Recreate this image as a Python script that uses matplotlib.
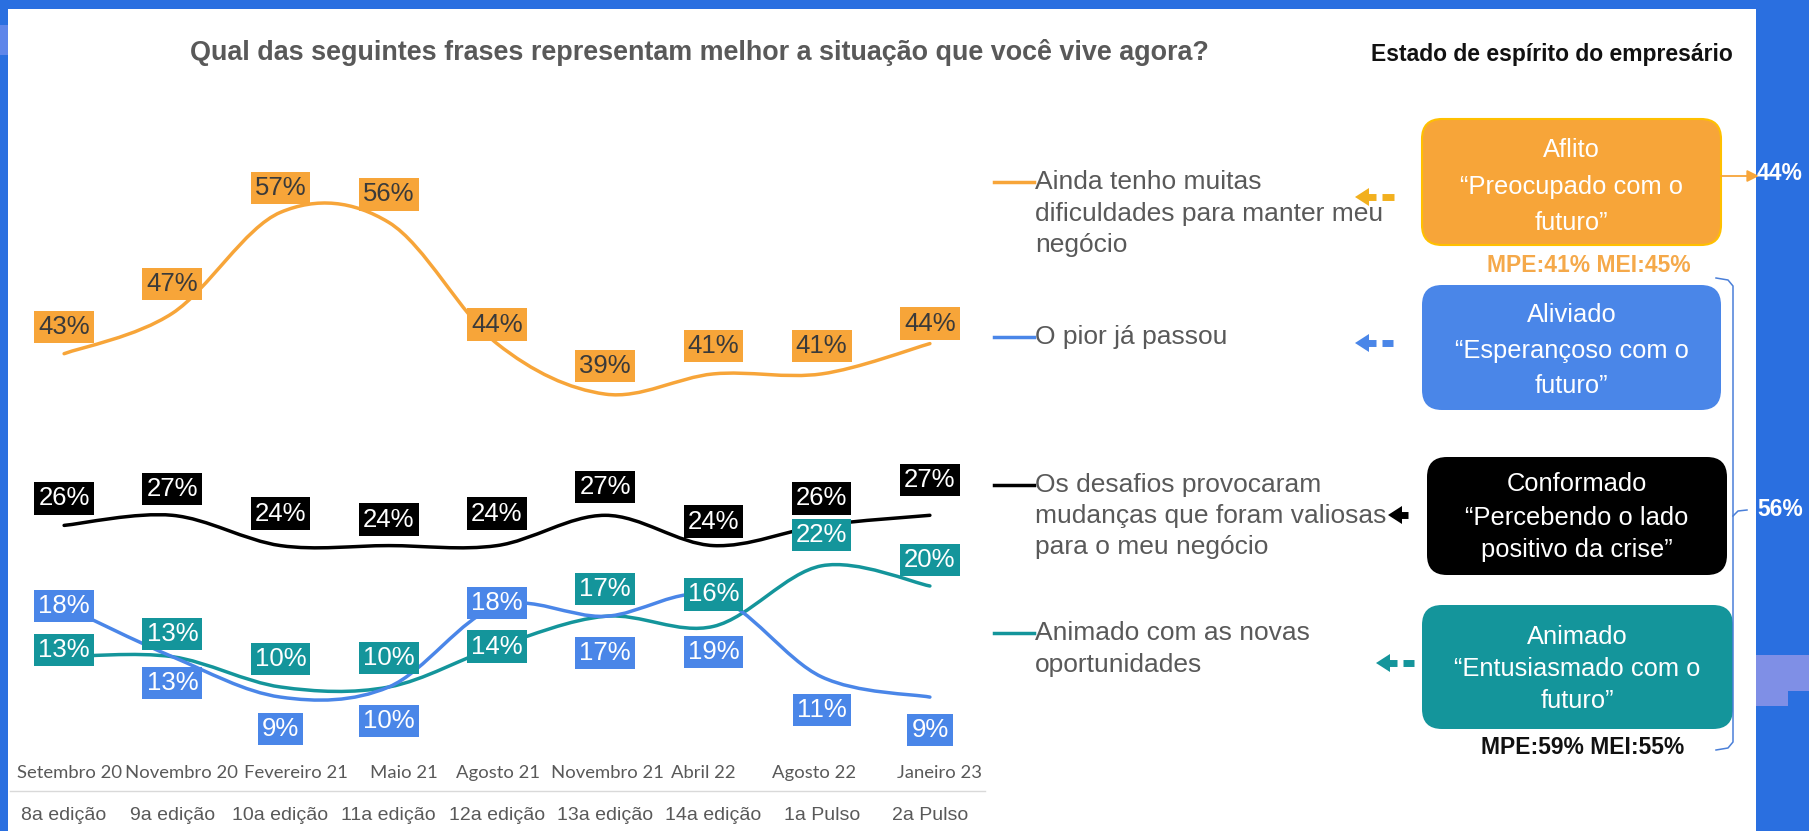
import numpy as np
import matplotlib
matplotlib.use("Agg")
import matplotlib.pyplot as plt
from matplotlib.path import Path
from matplotlib.patches import PathPatch, FancyBboxPatch, Rectangle, FancyArrowPatch, Polygon
from matplotlib.lines import Line2D
import matplotlib.transforms as mtransforms

# ---------------- data ----------------
periods = ["Setembro 20", "Novembro 20", "Fevereiro 21", "Maio 21", "Agosto 21",
           "Novembro 21", "Abril 22", "Agosto 22", "Janeiro 23"]
editions = ["8a edição", "9a edição", "10a edição", "11a edição", "12a edição",
            "13a edição", "14a edição", "1a Pulso", "2a Pulso"]
dificuldades = [43, 47, 57, 56, 44, 39, 41, 41, 44]
pior_passou = [18, 13, 9, 10, 18, 17, 19, 11, 9]
desafios = [26, 27, 24, 24, 24, 27, 24, 26, 27]
animado = [13, 13, 10, 10, 14, 17, 16, 22, 20]

total_aflito = "44%"
total_outros = "56%"
mpe_mei_aflito = "MPE:41% MEI:45%"
mpe_mei_outros = "MPE:59% MEI:55%"

# ---------------- style / layout ----------------
ORANGE = "#F7A539"
BLUE = "#4A86E8"
TEAL = "#14959B"
BLACK = "#000000"
GRAY = "#595959"
FRAME = "#2A6FE0"

W, H = 1809, 831
fig = plt.figure(figsize=(W / 100, H / 100), dpi=100)
fig.patch.set_facecolor("white")

SANS = ["Liberation Sans", "DejaVu Sans"]
CAT = ["Lato", "DejaVu Sans"]

# chart axes
AX_TOP, AX_BOT = 131.5, 788.0
ax = fig.add_axes([10 / W, 1 - AX_BOT / H, 974 / W, (AX_BOT - AX_TOP) / H])
ax.set_xlim(-0.5, 8.5)
ax.set_ylim(0, 65)
ax.axis("off")

# overlay axes in pixel coords
ov = fig.add_axes([0, 0, 1, 1], zorder=5)
ov.set_xlim(0, W)
ov.set_ylim(H, 0)
ov.axis("off")


def smooth_path(xs, ys):
    pts = np.column_stack([xs, ys]).astype(float)
    n = len(pts)
    verts = [pts[0]]
    codes = [Path.MOVETO]
    for i in range(n - 1):
        p0 = pts[max(i - 1, 0)]
        p1 = pts[i]
        p2 = pts[i + 1]
        p3 = pts[min(i + 2, n - 1)]
        c1 = p1 + (p2 - p0) / 6.0
        c2 = p2 - (p3 - p1) / 6.0
        verts += [c1, c2, p2]
        codes += [Path.CURVE4] * 3
    return Path(verts, codes)


x = np.arange(len(periods))
series = [
    (dificuldades, ORANGE, "#3A3A3A", [27, 29, 24, 28, 19, 28, 28, 28, 20]),
    (desafios, BLACK, "white", [27, 26, 32, 26, 32, 28, 24, 27, 35]),
    (animado, TEAL, "white", [7, 23, 28, 29, 0, 27, 32, 31, 26]),
    (pior_passou, BLUE, "white", [0, -26, -32, -34, 3, -37, -56, -33, -33]),
]

for vals, col, tcol, offs in series:
    p = PathPatch(smooth_path(x, vals), fill=False, edgecolor=col, lw=2.5,
                  capstyle="round", zorder=2)
    ax.add_patch(p)

for vals, col, tcol, offs in series:
    for i, v in enumerate(vals):
        ax.annotate(f"{v}%", (i, v), xytext=(0, offs[i]), textcoords="offset pixels",
                    ha="center", va="center", fontsize=18.5, color=tcol, family=SANS,
                    bbox=dict(boxstyle="square,pad=0.16", fc=col, ec="none"), zorder=4)

# category labels
blend = mtransforms.blended_transform_factory(ax.transData, ov.transData)
row1_dx = [0.05, 0.08, 0.14, 0.14, 0.01, 0.02, -0.09, -0.07, 0.09]
for i, lab in enumerate(periods):
    ov.text(i + row1_dx[i], 773, lab, transform=blend, ha="center", va="center",
            fontsize=13.3, color=GRAY, family=CAT)
for i, lab in enumerate(editions):
    ov.text(i, 815, lab, transform=blend, ha="center", va="center",
            fontsize=14, color=GRAY, family=SANS)
ov.add_line(Line2D([10, 985], [791, 791], color="#D9D9D9", lw=1))

# frame bands
ov.add_patch(Rectangle((0, 0), W, 9, fc=FRAME, ec="none", zorder=0))
ov.add_patch(Rectangle((0, 0), 8, H, fc=FRAME, ec="none", zorder=0))
ov.add_patch(Rectangle((1756, 0), W - 1756, H, fc=FRAME, ec="none", zorder=0))
ov.add_patch(Rectangle((1756, 655), W - 1756, 36, fc="#7F8FE6", ec="none", zorder=0))
ov.add_patch(Rectangle((1756, 690), 32, 16, fc="#7F8FE6", ec="none", zorder=0))
ov.add_patch(Rectangle((0, 25), 8, 30, fc="#5F86EA", ec="none", zorder=0))

# titles
ov.text(699, 52, "Qual das seguintes frases representam melhor a situação que você vive agora?",
        ha="center", va="center", fontsize=19.4, fontweight="bold", color=GRAY, family=SANS)
ov.text(1371, 54, "Estado de espírito do empresário", ha="left", va="center",
        fontsize=16.5, fontweight="bold", color="#111111", family=SANS)

# legend-like labels
legend_items = [
    (ORANGE, ["Ainda tenho muitas", "dificuldades para manter meu", "negócio"], [182, 214, 245]),
    (BLUE, ["O pior já passou"], [337]),
    (BLACK, ["Os desafios provocaram", "mudanças que foram valiosas", "para o meu negócio"], [485, 516, 547]),
    (TEAL, ["Animado com as novas", "oportunidades"], [633, 665]),
]
for col, lines, ys in legend_items:
    ov.add_line(Line2D([994, 1034], [ys[0], ys[0]], color=col, lw=2.5))
    for ln, yy in zip(lines, ys):
        ov.text(1035, yy, ln, ha="left", va="center", fontsize=19, color=GRAY, family=SANS)


# arrows pointing left: head, then dashes
def left_arrow(x0, y, col, dashes):
    head = 14
    ov.add_patch(Polygon([[x0, y], [x0 + head, y - 9], [x0 + head, y + 9]],
                         closed=True, fc=col, ec="none"))
    for a, b in dashes:
        ov.add_line(Line2D([x0 + a, x0 + b], [y, y], color=col, lw=5, solid_capstyle="butt"))


left_arrow(1355, 197, "#F2B01E", [(12, 21), (27, 39)])
left_arrow(1355, 343, BLUE, [(12, 21), (27, 38)])
left_arrow(1388, 515, BLACK, [(12, 20)])
left_arrow(1376, 663, TEAL, [(12, 21), (27, 38)])

# mood boxes
boxes = [
    (1422, 119, 299, 126, ORANGE, "#FFC000", ["Aflito", "“Preocupado com o", "futuro”"], [150, 187, 223]),
    (1422, 285, 299, 125, BLUE, "none", ["Aliviado", "“Esperançoso com o", "futuro”"], [315, 351, 386]),
    (1427, 457, 300, 118, BLACK, "none", ["Conformado", "“Percebendo o lado", "positivo da crise”"], [484, 518, 550]),
    (1422, 605, 311, 124, TEAL, "none", ["Animado", "“Entusiasmado com o", "futuro”"], [637, 669, 701]),
]
for bx, by, bw, bh, fc, ec, lines, ys in boxes:
    ov.add_patch(FancyBboxPatch((bx, by), bw, bh, boxstyle="round,pad=0,rounding_size=20",
                                fc=fc, ec=ec, lw=1.5, zorder=2))
    for ln, yy in zip(lines, ys):
        ov.text(bx + bw / 2, yy, ln, ha="center", va="center", fontsize=18.4,
                color="white", family=SANS, zorder=3)

ov.text(1589, 266, mpe_mei_aflito, ha="center", va="center", fontsize=16.5,
        fontweight="bold", color="#F5A94A", family=SANS)
ov.text(1583, 748, mpe_mei_outros, ha="center", va="center", fontsize=16.5,
        fontweight="bold", color="#111111", family=SANS)

# bracket
BR = "#4A7FD8"
ov.add_line(Line2D([1716, 1728, 1733, 1733, 1728, 1716],
                   [278, 280, 286, 742, 748, 750], color=BR, lw=1.1))
ov.add_line(Line2D([1733, 1738, 1747], [516, 511, 510], color=BR, lw=1.1))
ov.text(1757, 510, total_outros, ha="left", va="center", fontsize=16.5,
        fontweight="bold", color="white", family=SANS, zorder=3)

# arrow to 44%
ov.add_patch(FancyArrowPatch((1721, 176), (1759, 176), arrowstyle="-|>,head_length=7,head_width=3.5",
                             color=ORANGE, lw=1.3, shrinkA=0, shrinkB=0, zorder=3))
ov.text(1757, 174, total_aflito, ha="left", va="center", fontsize=16.5,
        fontweight="bold", color="white", family=SANS, zorder=3)

fig.savefig("out.png", dpi=100, facecolor=fig.get_facecolor())
